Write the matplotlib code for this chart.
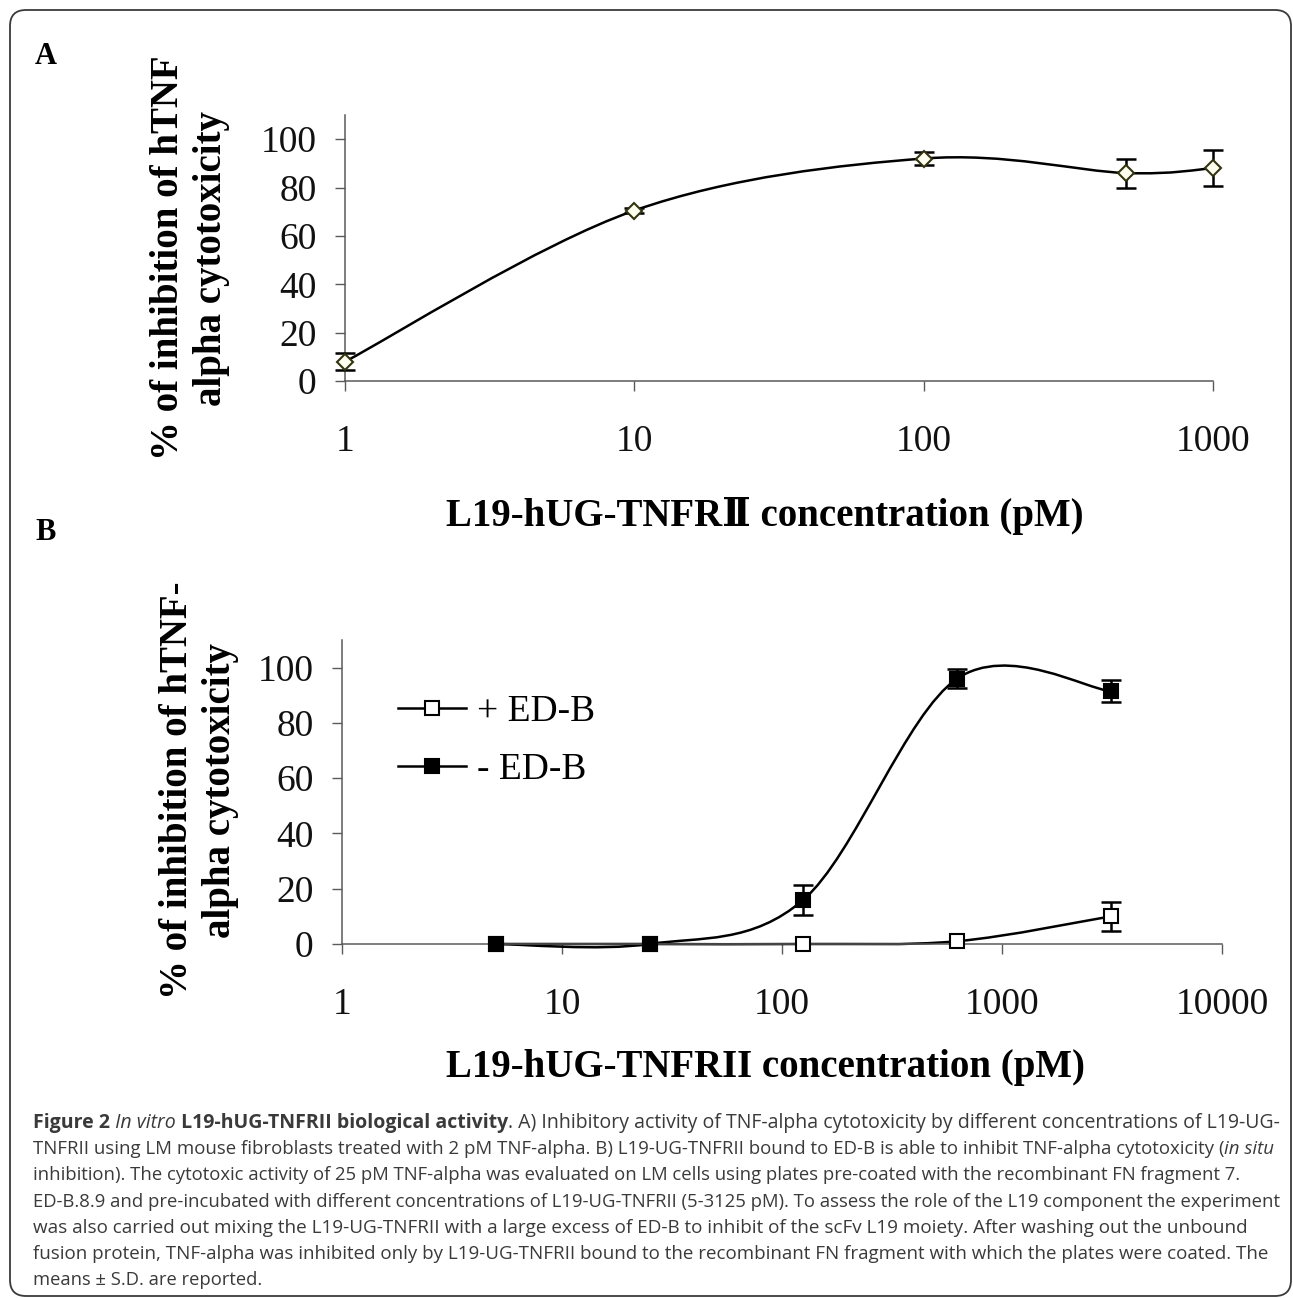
import numpy as np
import matplotlib
matplotlib.use("Agg")
import matplotlib.pyplot as plt
from matplotlib.path import Path
from matplotlib.patches import PathPatch, FancyBboxPatch
from matplotlib.lines import Line2D
from matplotlib.font_manager import FontProperties
from matplotlib.transforms import IdentityTransform

plt.rcParams['font.family'] = ['Liberation Serif', 'DejaVu Serif']

# panel A: L19-hUG-TNFRII dose response
conc_a = [1, 10, 100, 500, 1000]
inhib_a = [8, 70.5, 92, 86, 88]
sd_a = [3.5, 1.0, 2.5, 6.0, 7.5]

# panel B: in situ inhibition, with / without ED-B
conc_b = [5, 25, 125, 625, 3125]
plus_edb = [0, 0, 0, 1, 10]
plus_edb_sd = [0, 0, 0, 0, 5.3]
minus_edb = [0, 0, 16, 96, 91.5]
minus_edb_sd = [0, 0, 5.5, 3.5, 4.0]

ticks_a = [1, 10, 100, 1000]
ticks_b = [1, 10, 100, 1000, 10000]
yticks = [0, 20, 40, 60, 80, 100]

caption_lines = [
    [("Figure 2", "bold", "normal"), (" In vitro", "normal", "italic"),
     (" L19-hUG-TNFRII biological activity", "bold", "normal"),
     (". A) Inhibitory activity of TNF-alpha cytotoxicity by different concentrations of L19-UG-", "normal", "normal")],
    [("TNFRII using LM mouse fibroblasts treated with 2 pM TNF-alpha. B) L19-UG-TNFRII bound to ED-B is able to inhibit TNF-alpha cytotoxicity (", "normal", "normal"),
     ("in situ", "normal", "italic")],
    [("inhibition). The cytotoxic activity of 25 pM TNF-alpha was evaluated on LM cells using plates pre-coated with the recombinant FN fragment 7.", "normal", "normal")],
    [("ED-B.8.9 and pre-incubated with different concentrations of L19-UG-TNFRII (5-3125 pM). To assess the role of the L19 component the experiment", "normal", "normal")],
    [("was also carried out mixing the L19-UG-TNFRII with a large excess of ED-B to inhibit of the scFv L19 moiety. After washing out the unbound", "normal", "normal")],
    [("fusion protein, TNF-alpha was inhibited only by L19-UG-TNFRII bound to the recombinant FN fragment with which the plates were coated. The", "normal", "normal")],
    [("means \u00b1 S.D. are reported.", "normal", "normal")],
]
# right edge (px) each caption line reaches in the reference
caption_right = [1277, 1272, 1233, 1277, 1243, 1265, None]

W, H = 1293, 1298
fig = plt.figure(figsize=(W / 100, H / 100), dpi=100)
fig.patch.set_facecolor('white')

def fx(px):
    return px / W

def fy(py):
    return 1 - py / H

def smooth_path(xs, ys):
    # excel style smoothed line: bezier segments in (log x, y) space
    pts = np.column_stack([np.log10(xs), ys]).astype(float)
    n = len(pts)
    verts = [pts[0]]
    codes = [Path.MOVETO]
    for i in range(n - 1):
        p0 = pts[i - 1] if i > 0 else pts[i]
        p1 = pts[i]
        p2 = pts[i + 1]
        p3 = pts[i + 2] if i + 2 < n else pts[i + 1]
        c1 = p1 + (p2 - p0) / 6.0
        c2 = p2 - (p3 - p1) / 6.0
        verts += [c1, c2, p2]
        codes += [Path.CURVE4] * 3
    verts = np.array(verts)
    verts[:, 0] = 10 ** verts[:, 0]
    return Path(verts, codes)

def style_axes(ax, xlim, xt):
    ax.set_xscale('log')
    ax.set_xlim(*xlim)
    ax.set_ylim(0, 110)
    ax.set_xticks(xt)
    ax.set_xticklabels([str(t) for t in xt])
    ax.xaxis.set_minor_locator(matplotlib.ticker.NullLocator())
    ax.set_yticks(yticks)
    ax.set_yticklabels([str(t) for t in yticks])
    for s in ['top', 'right']:
        ax.spines[s].set_visible(False)
    for s in ['left', 'bottom']:
        ax.spines[s].set_color('#5a5a5a')
        ax.spines[s].set_linewidth(1.1)
    ax.tick_params(axis='both', direction='out', length=7.5, width=1.0,
                   color='#5a5a5a', labelsize=27, labelcolor='#111111')
    ax.tick_params(axis='x', pad=24)
    ax.tick_params(axis='y', pad=13)
    ax.patch.set_visible(False)

def draw_errors(ax, x, y, e):
    x = np.array(x, float); y = np.array(y, float); e = np.array(e, float)
    m = e > 0
    ax.errorbar(x[m], y[m], yerr=e[m], fmt='none', ecolor='black',
                elinewidth=1.8, capsize=7, capthick=1.8, zorder=3, clip_on=False)

# ---------- panel A ----------
axA = fig.add_axes([fx(345), fy(381), fx(868), 266 / H])
style_axes(axA, (1, 1000), ticks_a)
axA.add_patch(PathPatch(smooth_path(conc_a, inhib_a), fill=False, lw=1.8,
                        ec='black', zorder=2, clip_on=False))
draw_errors(axA, conc_a, inhib_a, sd_a)
axA.plot(conc_a, inhib_a, ls='none', marker='D', ms=8.5, mfc='#fffff0',
         mec='#333310', mew=1.5, zorder=4, clip_on=False)

# ---------- panel B ----------
axB = fig.add_axes([fx(342), fy(944), fx(880), 304 / H])
style_axes(axB, (1, 10000), ticks_b)
axB.add_patch(PathPatch(smooth_path(conc_b, plus_edb), fill=False, lw=1.8,
                        ec='black', zorder=2, clip_on=False))
axB.add_patch(PathPatch(smooth_path(conc_b, minus_edb), fill=False, lw=1.8,
                        ec='black', zorder=2, clip_on=False))
draw_errors(axB, conc_b, plus_edb, plus_edb_sd)
draw_errors(axB, conc_b, minus_edb, minus_edb_sd)
axB.plot(conc_b, plus_edb, ls='none', marker='s', ms=9.5, mfc='white',
         mec='black', mew=1.5, zorder=4, clip_on=False)
axB.plot(conc_b, minus_edb, ls='none', marker='s', ms=9.5, mfc='black',
         mec='black', mew=1.5, zorder=5, clip_on=False)

h_plus = Line2D([], [], color='black', lw=1.8, marker='s', ms=9.5,
                mfc='white', mec='black', mew=1.5)
h_minus = Line2D([], [], color='black', lw=1.8, marker='s', ms=9.5,
                 mfc='black', mec='black', mew=1.5)
axB.legend([h_plus, h_minus], ['+ ED-B', '- ED-B'], loc='upper left',
           bbox_to_anchor=(0.064, 0.82), frameon=False, fontsize=27,
           handlelength=1.8, handletextpad=0.3, labelspacing=0.62,
           borderpad=0, borderaxespad=0)

# ---------- labels ----------
fig.text(fx(46), fy(56), 'A', fontsize=22, fontweight='bold', ha='center', va='center')
fig.text(fx(46), fy(533), 'B', fontsize=22, fontweight='bold', ha='center', va='center')

fig.text(fx(190), fy(258), '% of inhibition of hTNF\nalpha cytotoxicity', rotation=90,
         fontsize=28, fontweight='bold', ha='center', va='center', multialignment='center')
fig.text(fx(199), fy(790), '% of inhibition of hTNF-\nalpha cytotoxicity', rotation=90,
         fontsize=28, fontweight='bold', ha='center', va='center', multialignment='center')

fig.text(fx(765), fy(516), 'L19-hUG-TNFR\u2161 concentration (pM)', fontsize=28,
         fontweight='bold', ha='center', va='center',
         family=['Liberation Serif', 'DejaVu Serif', 'Noto Sans CJK SC'])
fig.text(fx(765), fy(1068), 'L19-hUG-TNFRII concentration (pM)', fontsize=28,
         fontweight='bold', ha='center', va='center')

# ---------- caption ----------
renderer = fig.canvas.get_renderer()
cap_family = ['Open Sans', 'DejaVu Sans']

def run_width(s, weight, style, size):
    fp = FontProperties(family=cap_family, weight=weight, style=style, size=size)
    w1, _, _ = renderer.get_text_width_height_descent('X' + s + 'X', fp, ismath=False)
    w0, _, _ = renderer.get_text_width_height_descent('XX', fp, ismath=False)
    return w1 - w0

def line_width(runs, size):
    return sum(run_width(s, wt, st, size) for s, wt, st in runs)

x_left = 33
base_size = 11.0 * (1277 - x_left) / line_width(caption_lines[3], 11.0)
base0 = 1128
for i, runs in enumerate(caption_lines):
    size = base_size
    if caption_right[i] is not None:
        k = (caption_right[i] - x_left) / line_width(runs, base_size)
        size = base_size * min(max(k, 0.97), 1.07)
    x = x_left
    y = base0 + 26.2 * i
    for s, weight, style in runs:
        fig.text(fx(x), fy(y), s, fontsize=size, fontweight=weight, fontstyle=style,
                 family=cap_family, color='#3a3a3a', ha='left', va='baseline')
        x += run_width(s, weight, style, size)

# frame
frame = FancyBboxPatch((10, 2), 1281, 1286, boxstyle='round,pad=0,rounding_size=16',
                       fill=False, ec='#3a3a3a', lw=1.3, transform=IdentityTransform())
fig.add_artist(frame)

fig.savefig('out.png', dpi=100, facecolor='white')
